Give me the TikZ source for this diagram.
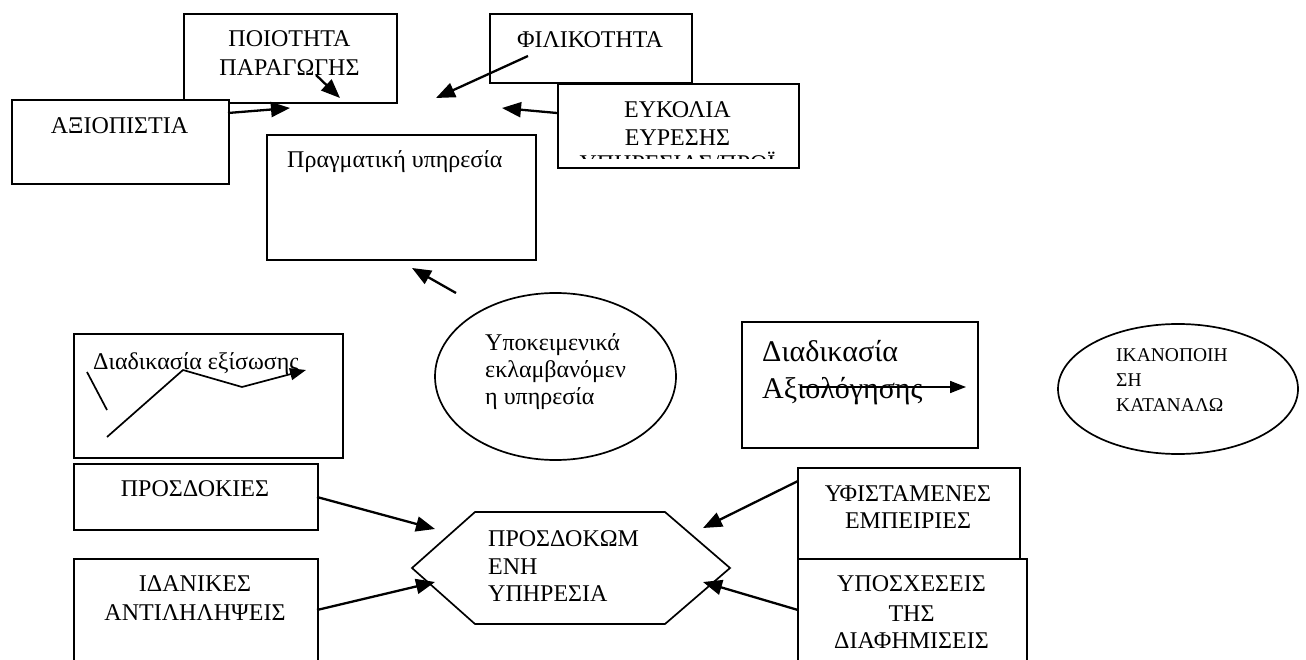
\documentclass[tikz,border=0pt]{standalone}
\usepackage{fontspec}
\setmainfont{Liberation Serif}
\usetikzlibrary{arrows.meta,shapes.geometric}
\begin{document}
\begin{tikzpicture}[x=1pt,y=-1pt,
  box/.style={draw,line width=1.7pt,fill=white,inner sep=0pt,anchor=north west},
  oval/.style={draw,ellipse,line width=1.7pt,fill=white,inner sep=0pt},
  txt/.style={inner sep=0pt,anchor=base,font=\fontsize{24}{28}\selectfont},
  ltxt/.style={inner sep=0pt,anchor=base west,font=\fontsize{24}{28}\selectfont},
  stxt/.style={inner sep=0pt,anchor=base west,font=\fontsize{19.5}{23}\selectfont},
  btxt/.style={inner sep=0pt,anchor=base west,font=\fontsize{30}{36}\selectfont},
  arr/.style={line width=2.3pt,-{Triangle[length=19pt,width=15pt]}},
  thinarr/.style={line width=1.7pt,-{Triangle[length=16pt,width=12pt]}},
  thin/.style={line width=1.7pt}]
\clip (0,0) rectangle (1306,660);
\fill[white] (0,0) rectangle (1306,660);

% --- top boxes ---
\node[box,minimum width=213pt,minimum height=89pt] (poio) at (183,13) {};
\node[txt] (poio1) at (289.5,47) {ΠΟΙΟΤΗΤΑ};
\node[txt] (poio2) at (289.5,76) {ΠΑΡΑΓΩΓΗΣ};
\node[box,minimum width=217pt,minimum height=84pt] (axio) at (11,99) {};
\node[txt] (axio1) at (119.5,134) {ΑΞΙΟΠΙΣΤΙΑ};
\node[box,minimum width=202pt,minimum height=69pt] (fili) at (489,13) {};
\node[txt] (fili1) at (590,48) {ΦΙΛΙΚΟΤΗΤΑ};
\node[box,minimum width=241pt,minimum height=84pt] (efk) at (557,83) {};
\node[txt] (efk1) at (677.5,118) {ΕΥΚΟΛΙΑ};
\node[txt] (efk2) at (677.5,146) {ΕΥΡΕΣΗΣ};
\begin{scope}
  \clip (560,150) rectangle (795,158.5);
  \node[txt] (efk3) at (677.5,172) {ΥΠΗΡΕΣΙΑΣ/ΠΡΟΪ};
\end{scope}
\node[box,minimum width=269pt,minimum height=125pt] (prag) at (266,134) {};
\node[ltxt] (prag1) at (287,168) {Πραγματική υπηρεσία};

% --- top arrows ---
\coordinate (a1s) at (228,113); \coordinate (a1e) at (290,108);
\coordinate (a2s) at (316,75);  \coordinate (a2e) at (340,98);
\coordinate (a3s) at (528,56);  \coordinate (a3e) at (436,98);
\coordinate (a4s) at (557,113); \coordinate (a4e) at (502,108);
\coordinate (a5s) at (456,293); \coordinate (a5e) at (412,268);
\draw[arr] (a1s) -- (a1e);
\draw[arr] (a2s) -- (a2e);
\draw[arr] (a3s) -- (a3e);
\draw[arr] (a4s) -- (a4e);
\draw[arr] (a5s) -- (a5e);

% --- middle row ---
\node[box,minimum width=269pt,minimum height=124pt] (exis) at (73,333) {};
\node[ltxt] (exis1) at (93,369) {Διαδικασία εξίσωσης};
\coordinate (e1) at (87,372); \coordinate (e2) at (107,410);
\coordinate (p1) at (107,437); \coordinate (p2) at (183,370);
\coordinate (p3) at (242,387); \coordinate (p4) at (306,370);
\draw[thin] (e1) -- (e2);
\draw[thin] (p1) -- (p2) -- (p3);
\draw[thinarr] (p3) -- (p4);

\node[oval,minimum width=241pt,minimum height=167pt] (ypok) at (555.5,376.5) {};
\node[ltxt] (ypok1) at (485,350) {Υποκειμενικά};
\node[ltxt] (ypok2) at (485,377) {εκλαμβανόμεν};
\node[ltxt] (ypok3) at (485,404) {η υπηρεσία};

\node[box,minimum width=236pt,minimum height=126pt] (axiol) at (741,321) {};
\node[btxt] (axiol1) at (762,361) {Διαδικασία};
\node[btxt] (axiol2) at (762,398) {Αξιολόγησης};
\coordinate (s1) at (800,387); \coordinate (s2) at (966,387);
\draw[thinarr] (s1) -- (s2);

\node[oval,minimum width=240pt,minimum height=130pt] (ikan) at (1178,389) {};
\node[stxt] (ikan1) at (1116,361) {ΙΚΑΝΟΠΟΙΗ};
\node[stxt] (ikan2) at (1116,386) {ΣΗ};
\node[stxt] (ikan3) at (1116,411) {ΚΑΤΑΝΑΛΩ};

% --- bottom row ---
\node[box,minimum width=244pt,minimum height=66pt] (pros) at (73,463) {};
\node[txt] (pros1) at (195,496) {ΠΡΟΣΔΟΚΙΕΣ};
\node[box,minimum width=244pt,minimum height=130pt] (idan) at (73,558) {};
\node[txt] (idan1) at (195,591) {ΙΔΑΝΙΚΕΣ};
\node[txt] (idan2) at (195,620) {ΑΝΤΙΛΗΛΗΨΕΙΣ};

\node[box,minimum width=222pt,minimum height=103pt] (yfis) at (797,467) {};
\node[txt] (yfis1) at (908,501) {ΥΦΙΣΤΑΜΕΝΕΣ};
\node[txt] (yfis2) at (908,528) {ΕΜΠΕΙΡΙΕΣ};
\node[box,minimum width=229pt,minimum height=130pt] (ypos) at (797,558) {};
\node[txt] (ypos1) at (911.5,591) {ΥΠΟΣΧΕΣΕΙΣ};
\node[txt] (ypos2) at (911.5,621) {ΤΗΣ};
\node[txt] (ypos3) at (911.5,648) {ΔΙΑΦΗΜΙΣΕΙΣ};

\coordinate (h1) at (412,568); \coordinate (h2) at (475,512);
\coordinate (h3) at (665,512); \coordinate (h4) at (730,568);
\coordinate (h5) at (665,624); \coordinate (h6) at (475,624);
\draw[line width=1.7pt,fill=white] (h1) -- (h2) -- (h3) -- (h4) -- (h5) -- (h6) -- cycle;
\node[ltxt] (hex1) at (488,546) {ΠΡΟΣΔΟΚΩΜ};
\node[ltxt] (hex2) at (488,574) {ΕΝΗ};
\node[ltxt] (hex3) at (488,601) {ΥΠΗΡΕΣΙΑ};

\coordinate (b1s) at (317,497); \coordinate (b1e) at (435,529);
\coordinate (b2s) at (317,610); \coordinate (b2e) at (435,582);
\coordinate (b3s) at (798,481); \coordinate (b3e) at (703,528);
\coordinate (b4s) at (798,610); \coordinate (b4e) at (703,582);
\draw[arr] (b1s) -- (b1e);
\draw[arr] (b2s) -- (b2e);
\draw[arr] (b3s) -- (b3e);
\draw[arr] (b4s) -- (b4e);
\end{tikzpicture}
\end{document}
